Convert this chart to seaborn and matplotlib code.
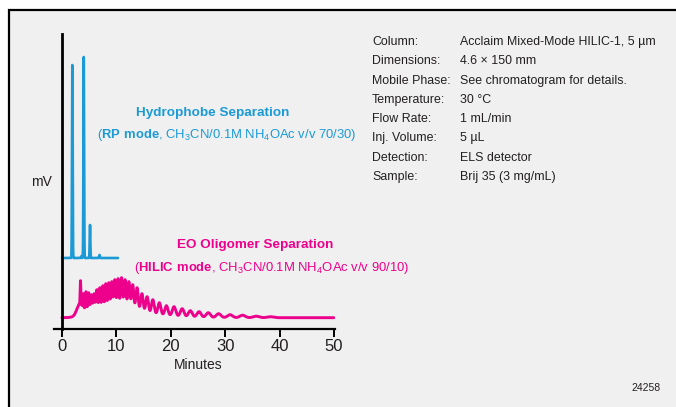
import numpy as np
import pandas as pd
import seaborn as sns
import matplotlib.pyplot as plt
from matplotlib.patches import Rectangle

#========================================================================================================
# Data (time in minutes, signal in arbitrary mV units)
#========================================================================================================

#RP mode (hydrophobe separation) - baseline, run end and peak table
rp_baseline = 71
rp_end = 10.3
rp_times = [1.9, 3.6, 4.0, 5.15, 6.9]
rp_heights = [193, 2, 201, 33, 3]

#HILIC mode (EO oligomer separation) - baseline and peak tops (height above baseline)
hilic_baseline = 11.3
hilic_end = 50.0
hilic_times = [3.4, 3.9, 4.4, 4.9, 5.4, 5.9, 6.4, 6.95, 7.5, 8.05, 8.6, 9.15, 9.7,
               10.3, 10.95, 11.6, 12.3, 13.0, 13.8, 14.7, 15.65, 16.7, 17.9, 19.2,
               20.6, 22.1, 23.6, 25.2, 26.9, 28.8, 30.9, 33.2, 35.7, 38.3]
hilic_tops = [37, 24, 26, 25, 23, 24, 28, 30, 32, 34, 35, 36, 38,
              39, 40, 38, 36, 33, 30, 24, 21, 18, 15, 12,
              11, 9, 7, 6, 5, 4, 3, 2.5, 1.5, 1]

#Unresolved hump under the oligomer peaks (center, width, height)
hump_centers = [3.2, 5.5, 9.0, 13.0, 18.0]
hump_widths = [0.5, 1.5, 2.5, 2.5, 3.5]
hump_heights = [10, 10, 10, 5, 2]

#Method conditions
cond_labels = ["Column:", "Dimensions:", "Mobile Phase:", "Temperature:",
               "Flow Rate:", "Inj. Volume:", "Detection:", "Sample:"]
cond_values = ["Acclaim Mixed-Mode HILIC-1, 5 µm", "4.6 × 150 mm",
               "See chromatogram for details.", "30 °C", "1 mL/min", "5 µL",
               "ELS detector", "Brij 35 (3 mg/mL)"]

x_ticks = [0, 10, 20, 30, 40, 50]

#========================================================================================================
# Build traces
#========================================================================================================

def gauss(t, c, s, h):
    return h*np.exp(-(t-c)**2/(2*s**2))

def peak_sigma(t):
    #peaks broaden with retention time
    return 0.01 + 0.0145*t

#RP trace
t_rp = np.arange(0, rp_end+0.001, 0.005)
y_rp = np.full_like(t_rp, rp_baseline, dtype=float)
for c, h in zip(rp_times, rp_heights):
    y_rp += gauss(t_rp, c, 0.06, h)

#HILIC trace
t_hl = np.arange(0, hilic_end+0.001, 0.005)
hump = np.zeros_like(t_hl)
for c, s, h in zip(hump_centers, hump_widths, hump_heights):
    hump += gauss(t_hl, c, s, h)
y_hl = hilic_baseline + hump
for c, top in zip(hilic_times, hilic_tops):
    under = sum(gauss(c, hc, hs, hh) for hc, hs, hh in zip(hump_centers, hump_widths, hump_heights))
    y_hl += gauss(t_hl, c, peak_sigma(c), max(top-under, 0))

df_rp = pd.DataFrame({'Minutes': t_rp, 'mV': y_rp})
df_hl = pd.DataFrame({'Minutes': t_hl, 'mV': y_hl})

#========================================================================================================
# Plot
#========================================================================================================

sns.set_theme(style="white")
plt.rcParams['font.family'] = ['Liberation Sans', 'DejaVu Sans']
plt.rcParams['mathtext.fontset'] = 'custom'
plt.rcParams['mathtext.rm'] = 'Liberation Sans'
plt.rcParams['mathtext.bf'] = 'Liberation Sans:bold'

blue = '#1b9ad6'
pink = '#ec008c'
txt = '#231f20'

W, H = 676, 407
fig = plt.figure(figsize=(W/100, H/100), dpi=100, facecolor='white')

def fx(x): return x/W
def fy(y): return 1 - y/H

#Panel background with frame
fig.patches.append(Rectangle((fx(9), -0.1), 1.2, fy(10)+0.1, transform=fig.transFigure,
                             facecolor='#f0f0f0', edgecolor='black', linewidth=1.6, zorder=-5))

ax = fig.add_axes([fx(54), fy(329), fx(335)-fx(54), fy(34)-fy(329)])
ax.set_facecolor('none')
ax.set_zorder(2)

sns.lineplot(data=df_hl, x='Minutes', y='mV', ax=ax, color=pink, linewidth=2.1,
             estimator=None, sort=False)
sns.lineplot(data=df_rp, x='Minutes', y='mV', ax=ax, color=blue, linewidth=1.9,
             estimator=None, sort=False)

ax.set_xlim(-1.47, 50.2)
ax.set_ylim(0, 295)
ax.spines['left'].set_position(('data', 0))
ax.spines['left'].set_linewidth(2.0)
ax.spines['bottom'].set_linewidth(1.6)
for s in ['left', 'bottom']:
    ax.spines[s].set_color('black')
for s in ['top', 'right']:
    ax.spines[s].set_visible(False)

ax.set_xticks(x_ticks)
ax.set_xticklabels([str(v) for v in x_ticks], fontsize=12, color=txt)
ax.tick_params(axis='x', direction='out', length=5.5, width=1.4, color='black', pad=2, bottom=True)
ax.set_yticks([])
ax.set_xlabel('')
ax.set_ylabel('')

fig.text(fx(198), fy(365), 'Minutes', ha='center', va='center', fontsize=10, color=txt)
fig.text(fx(41), fy(182), 'mV', ha='center', va='center', fontsize=10, color=txt)

#Separation annotations
fig.text(fx(136), fy(113), 'Hydrophobe Separation', ha='left', va='center',
         fontsize=9.7, fontweight='bold', color=blue)
fig.text(fx(97), fy(135), r'($\mathbf{RP\ mode}$, CH$_\mathrm{3}$CN/0.1M NH$_\mathrm{4}$OAc v/v 70/30)',
         ha='left', va='center', fontsize=9.4, color=blue)
fig.text(fx(177), fy(245), 'EO Oligomer Separation', ha='left', va='center',
         fontsize=9.7, fontweight='bold', color=pink)
fig.text(fx(134), fy(268), r'($\mathbf{HILIC\ mode}$, CH$_\mathrm{3}$CN/0.1M NH$_\mathrm{4}$OAc v/v 90/10)',
         ha='left', va='center', fontsize=9.4, color=pink)

#Conditions table
for i, (lab, val) in enumerate(zip(cond_labels, cond_values)):
    yy = 42 + 19.3*i
    fig.text(fx(372), fy(yy), lab, ha='left', va='center', fontsize=8.9, color=txt)
    fig.text(fx(460), fy(yy), val, ha='left', va='center', fontsize=8.9, color=txt)

fig.text(fx(661), fy(388), '24258', ha='right', va='center', fontsize=7.5, color=txt)

fig.savefig('out.png', dpi=100, facecolor='white')
